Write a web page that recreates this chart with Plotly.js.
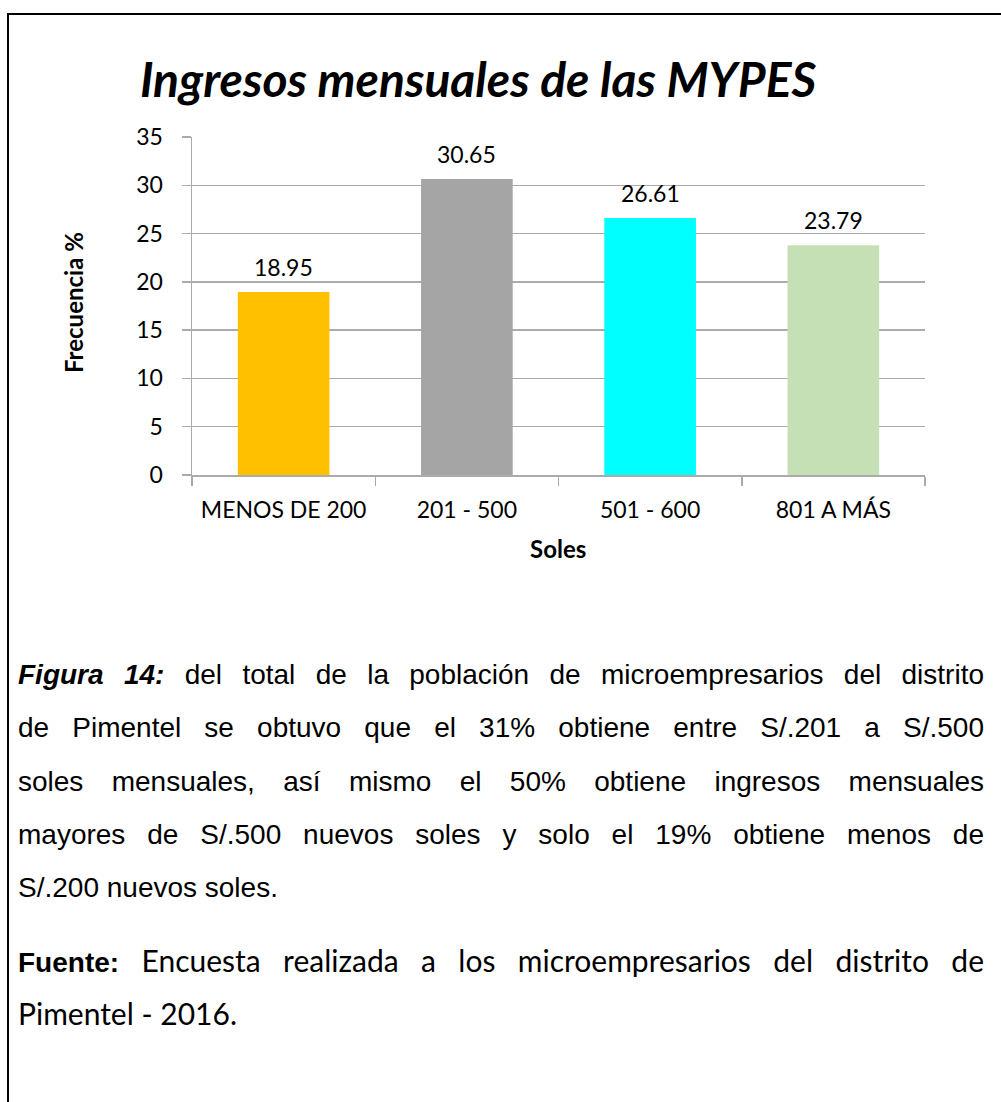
<!DOCTYPE html>
<html>
<head>
<meta charset="utf-8">
<script src="https://cdn.plot.ly/plotly-3.0.1.min.js"></script>
<style>
  html, body { margin:0; padding:0; background:#fff; }
  #page { position:relative; width:1001px; height:1102px; overflow:hidden; background:#fff; }
  #frame { position:absolute; left:7px; top:13px; width:1100px; height:1200px; border:2px solid #000; box-sizing:border-box; pointer-events:none; }
  #chart { position:absolute; left:0; top:0; width:1001px; height:1102px; }
  .cap { position:absolute; left:18px; width:966px; color:#000; }
  .ln { height:53.3px; line-height:53.3px; white-space:nowrap; text-align:justify; text-align-last:justify; }
  .ln.last { text-align-last:left; }
  .arial { font-family:"Liberation Sans", Arial, sans-serif; font-size:28px; }
  .cal { font-family:Lato, "Open Sans", sans-serif; font-size:30px; }
</style>
</head>
<body>
<div id="page">
  <div id="chart"></div>
  <div id="frame"></div>
  <div class="cap arial" style="top:648px;">
    <div class="ln"><b><i>Figura 14:</i></b> del total de la población de microempresarios del distrito</div>
    <div class="ln">de Pimentel se obtuvo que el 31% obtiene entre S/.201 a S/.500</div>
    <div class="ln">soles mensuales, así mismo el 50% obtiene ingresos mensuales</div>
    <div class="ln">mayores de S/.500 nuevos soles y solo el 19% obtiene menos de</div>
    <div class="ln last">S/.200 nuevos soles.</div>
  </div>
  <div class="cap" style="top:934px;">
    <div class="ln cal"><b class="arial">Fuente:</b> Encuesta realizada a los microempresarios del distrito de</div>
    <div class="ln last cal">Pimentel - 2016.</div>
  </div>
</div>
<script>
const categories = ["MENOS DE 200", "201 - 500", "501 - 600", "801 A MÁS"];
const values = [18.95, 30.65, 26.61, 23.79];
const barColors = ["#FFC000", "#A5A5A5", "#00FFFF", "#C5E0B4"];
const yTicks = [0, 5, 10, 15, 20, 25, 30, 35];
const chartTitle = "Ingresos mensuales de las MYPES";
const xTitle = "Soles";
const yTitle = "Frecuencia %";

const font = "Lato, 'Open Sans', sans-serif";
const gridCol = "#ababab";

const trace = {
  type: "bar",
  x: categories,
  y: values,
  marker: { color: barColors, line: { width: 0 } },
  hoverinfo: "none"
};

const annotations = categories.map((c, i) => ({
  x: c, y: values[i], xref: "x", yref: "y",
  text: values[i].toFixed(2),
  showarrow: false, yanchor: "bottom", yshift: 9,
  font: { family: font, size: 23, color: "#000" }
}));
annotations.push({
  xref: "paper", yref: "paper", x: (558 - 192) / 733, y: (475 - 548) / 338,
  xanchor: "center", yanchor: "middle", showarrow: false,
  text: "<b>" + xTitle + "</b>", font: { family: font, size: 24, color: "#000" }
});
annotations.push({
  xref: "paper", yref: "paper", x: (73 - 192) / 733, y: (475 - 303) / 338,
  xanchor: "center", yanchor: "middle", showarrow: false, textangle: -90,
  text: "<b>" + yTitle + "</b>", font: { family: font, size: 24, color: "#000" }
});

const layout = {
  width: 1001, height: 1102,
  margin: { l: 192, r: 76, t: 137, b: 627, pad: 0 },
  paper_bgcolor: "rgba(0,0,0,0)", plot_bgcolor: "rgba(0,0,0,0)",
  showlegend: false,
  bargap: 0.5,
  title: {
    text: "<b><i>" + chartTitle + "</i></b>",
    x: 478 / 1001, xanchor: "center", xref: "container",
    y: 1 - 80 / 1102, yanchor: "middle", yref: "container",
    font: { family: font, size: 48, color: "#000" }
  },
  xaxis: {
    type: "category",
    showline: true, linecolor: gridCol, linewidth: 1.5,
    ticks: "outside", tickson: "boundaries", ticklen: 9, tickcolor: gridCol, tickwidth: 1.5,
    showgrid: false, zeroline: false,
    tickfont: { family: font, size: 23, color: "#000" },
    ticklabelstandoff: 14
  },
  yaxis: {
    range: [0, 35], tickvals: yTicks, ticktext: yTicks.map(String),
    showline: true, linecolor: gridCol, linewidth: 1.5,
    ticks: "outside", ticklen: 9, tickcolor: gridCol, tickwidth: 1.5,
    showgrid: true, gridcolor: gridCol, gridwidth: 1.5, zeroline: false,
    tickfont: { family: font, size: 23, color: "#000" },
    ticklabelstandoff: 14
  },
  annotations: annotations
};

Plotly.newPlot("chart", [trace], layout, { staticPlot: true, displayModeBar: false });
</script>
</body>
</html>
